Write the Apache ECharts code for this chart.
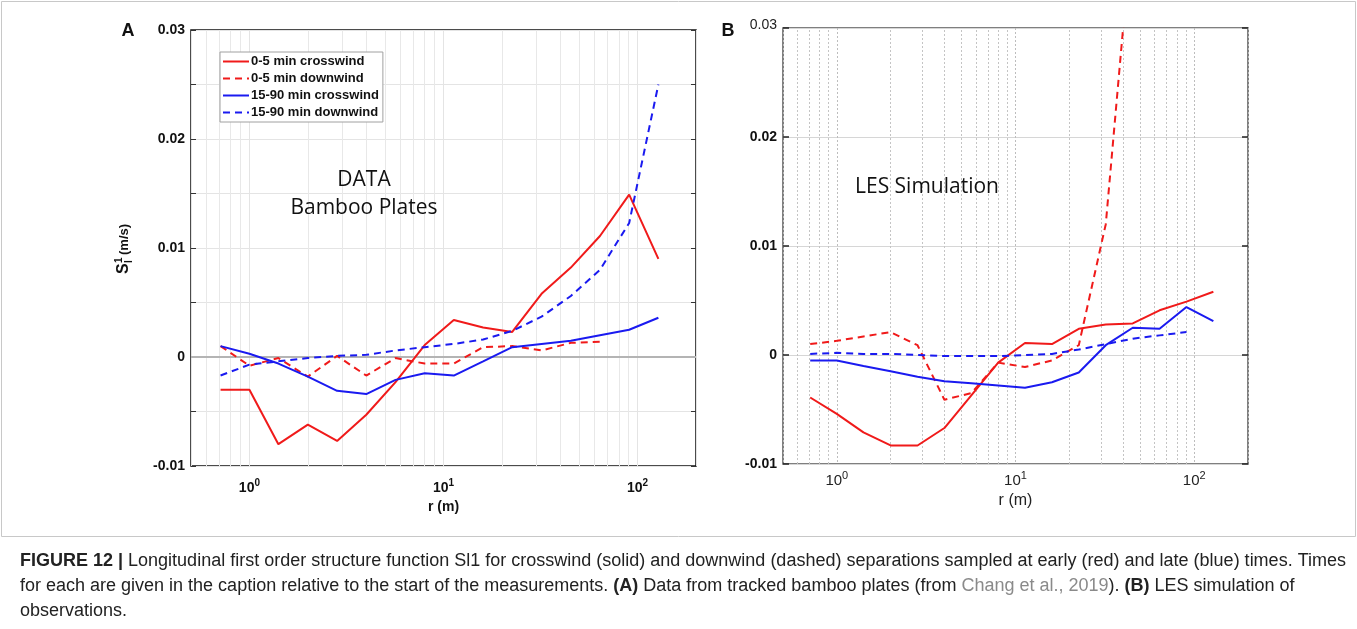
<!DOCTYPE html>
<html>
<head>
<meta charset="utf-8">
<script src="https://cdn.jsdelivr.net/npm/echarts@6/dist/echarts.min.js"></script>
<style>
  html, body { margin: 0; padding: 0; background: #fff; }
  #main { width: 1357px; height: 629px; }
</style>
</head>
<body>
<div id="main"></div>
<script>
// Separation distances r (m), spaced by a factor of sqrt(2)
const rSep = [0.71, 1, 1.41, 2, 2.83, 4, 5.66, 8, 11.3, 16, 22.6, 32, 45.3, 64, 90.5, 128];

// (A) tracked bamboo plates, S_l^1 (m/s)
const plateCrossEarly = [-0.0030, -0.0030, -0.0080, -0.0062, -0.0077, -0.0053, -0.0023, 0.0011, 0.0034, 0.0027, 0.0023, 0.0058, 0.0082, 0.0111, 0.0149, 0.0090];
const plateDownEarly  = [0.0010, -0.0008, -0.0001, -0.0018, 0.0001, -0.0017, -0.0001, -0.0006, -0.0006, 0.0009, 0.0010, 0.0006, 0.0013, 0.0014];
const plateCrossLate  = [0.0010, 0.0003, -0.0006, -0.0018, -0.0031, -0.0034, -0.0021, -0.0015, -0.0017, -0.0004, 0.0009, 0.0012, 0.0015, 0.0020, 0.0025, 0.0036];
const plateDownLate   = [-0.0017, -0.0007, -0.0004, -0.0001, 0.0001, 0.0002, 0.0006, 0.0009, 0.0012, 0.0016, 0.0024, 0.0037, 0.0056, 0.0080, 0.0123, 0.0250];

// (B) LES simulation, S_l^1 (m/s)
const lesCrossEarly = [-0.0039, -0.0054, -0.0071, -0.0083, -0.0083, -0.0067, -0.0037, -0.0007, 0.0011, 0.0010, 0.0024, 0.0028, 0.0029, 0.0041, 0.0049, 0.0058];
const lesDownEarly  = [0.0010, 0.0013, 0.0017, 0.0021, 0.0009, -0.0041, -0.0035, -0.0007, -0.0011, -0.0005, 0.0009, 0.0120, 0.0400];
const lesCrossLate  = [-0.0005, -0.0005, -0.0010, -0.0015, -0.0020, -0.0024, -0.0026, -0.0028, -0.0030, -0.0025, -0.0016, 0.0009, 0.0025, 0.0024, 0.0044, 0.0031];
const lesDownLate   = [0.0001, 0.0002, 0.0001, 0.0001, 0.0000, -0.0001, -0.0001, -0.0001, 0.0000, 0.0001, 0.0005, 0.0010, 0.0015, 0.0018, 0.0021];

const seriesNames = ['0-5 min crosswind', '0-5 min downwind', '15-90 min crosswind', '15-90 min downwind'];

const RED = '#f01a1a';
const BLUE = '#1a1af0';
const FONT = "'Liberation Sans', Arial, Helvetica, sans-serif";
const CAPTION_FONT = "18px 'Liberation Sans', Arial, sans-serif";

// pair every value with its separation
const pairs = vals => vals.map((v, i) => [rSep[i], v]);

// minor log-grid positions (2..9 x 10^k) inside the r range
const minorGrid = [];
for (let e = -1; e <= 2; e++) {
  for (let m = 2; m <= 9; m++) {
    const v = m * Math.pow(10, e);
    if (v > 0.5 + 1e-9 && v < 200 - 1e-9) minorGrid.push(v);
  }
}

function powLabel(v) {
  const lg = Math.log10(v);
  const e = Math.round(lg);
  if (Math.abs(lg - e) > 1e-6) return '';
  return '{b|10}{s|' + e + '}';
}
function yLabel(v) {
  const k = Math.round(v * 1000);
  if (k % 10 !== 0) return '';
  return k === 0 ? '0' : (k / 1000).toFixed(2);
}

function curve(name, vals, color, dashed, xi) {
  return {
    name: name, type: 'line', xAxisIndex: xi, yAxisIndex: xi * 2,
    data: pairs(vals), symbol: 'none', showSymbol: false, z: 5, clip: true,
    lineStyle: { color: color, width: 2, type: dashed ? [7, 5] : 'solid' },
    itemStyle: { color: color },
    emphasis: { disabled: true }
  };
}

const chart = echarts.init(document.getElementById('main'));

const option = {
  backgroundColor: '#fff',
  animation: false,
  grid: [
    { left: 191, top: 30, width: 505, height: 436, show: true, borderColor: '#111', borderWidth: 1.5, backgroundColor: 'transparent' },
    { left: 783, top: 28, width: 465, height: 436, show: true, borderColor: '#555', borderWidth: 1.5, backgroundColor: 'transparent' }
  ],
  legend: {
    data: seriesNames,
    orient: 'vertical', left: 220, top: 52, z: 20,
    itemWidth: 26, itemHeight: 10, itemGap: 4,
    padding: [3, 4, 3, 2],
    backgroundColor: '#fff', borderColor: '#a0a0a0', borderWidth: 1,
    selectedMode: false,
    itemStyle: { color: 'rgba(0,0,0,0)', borderWidth: 0, opacity: 0 },
    textStyle: { fontFamily: FONT, fontWeight: 'bold', fontSize: 13, color: '#111', padding: [0, 0, 0, -3] }
  },
  xAxis: [
    {
      type: 'log', logBase: 10, gridIndex: 0, min: 0.5, max: 200,
      axisLine: { show: false }, axisTick: { show: false },
      axisLabel: {
        formatter: powLabel, margin: 12, color: '#111',
        rich: {
          b: { fontFamily: FONT, fontWeight: 'bold', fontSize: 14, color: '#111' },
          s: { fontFamily: FONT, fontWeight: 'bold', fontSize: 10, color: '#111', padding: [0, 0, 10, 0] }
        }
      },
      splitLine: { show: true, lineStyle: { color: '#e4e4e4', width: 1 } },
      name: 'r (m)', nameLocation: 'middle', nameGap: 33,
      nameTextStyle: { fontFamily: FONT, fontWeight: 'bold', fontSize: 14, color: '#111' }
    },
    {
      type: 'log', logBase: 10, gridIndex: 1, min: 0.5, max: 200,
      axisLine: { show: false }, axisTick: { show: false },
      axisLabel: {
        formatter: powLabel, margin: 6, color: '#222',
        rich: {
          b: { fontFamily: FONT, fontSize: 15, color: '#222' },
          s: { fontFamily: FONT, fontSize: 11, color: '#222', padding: [0, 0, 10, 0] }
        }
      },
      splitLine: { show: true, lineStyle: { color: '#bdbdbd', width: 1, type: [2, 2] } },
      name: 'r (m)', nameLocation: 'middle', nameGap: 28,
      nameTextStyle: { fontFamily: FONT, fontSize: 16, color: '#222' }
    }
  ],
  yAxis: [
    {
      type: 'value', gridIndex: 0, min: -0.01, max: 0.03, interval: 0.005,
      axisLine: { show: false },
      axisTick: { show: true, inside: true, length: 5, lineStyle: { color: '#333' } },
      axisLabel: { formatter: yLabel, margin: 6, fontFamily: FONT, fontWeight: 'bold', fontSize: 14, color: '#111' },
      splitLine: { show: true, lineStyle: { color: '#e4e4e4', width: 1 } }
    },
    {
      type: 'value', gridIndex: 0, position: 'right', min: -0.01, max: 0.03, interval: 0.005,
      axisLine: { show: false },
      axisTick: { show: true, inside: true, length: 5, lineStyle: { color: '#333' } },
      axisLabel: { show: false }, splitLine: { show: false }
    },
    {
      type: 'value', gridIndex: 1, min: -0.01, max: 0.03, interval: 0.01,
      axisLine: { show: false },
      axisTick: { show: true, inside: true, length: 6, lineStyle: { color: '#222', width: 1.5 } },
      axisLabel: {
        margin: 6,
        formatter: v => {
          const t = yLabel(v);
          return Math.round(v * 1000) === 30 ? '{n|' + t + '}' : '{b|' + t + '}';
        },
        rich: {
          n: { fontFamily: FONT, fontSize: 14, color: '#222', padding: [0, 0, 6, 0] },
          b: { fontFamily: FONT, fontWeight: 'bold', fontSize: 14, color: '#111' }
        }
      },
      splitLine: { show: true, lineStyle: { color: '#d6d6d6', width: 1 } }
    },
    {
      type: 'value', gridIndex: 1, position: 'right', min: -0.01, max: 0.03, interval: 0.01,
      axisLine: { show: false },
      axisTick: { show: true, inside: true, length: 6, lineStyle: { color: '#222', width: 1.5 } },
      axisLabel: { show: false }, splitLine: { show: false }
    }
  ],
  series: [
    // background grid for (A): minor log lines and the zero reference
    {
      type: 'line', xAxisIndex: 0, yAxisIndex: 0, data: [], z: 1, silent: true,
      markLine: {
        z: 1, silent: true, symbol: 'none', label: { show: false }, animation: false,
        data: minorGrid.map(v => ({ xAxis: v, lineStyle: { color: '#e8e8e8', width: 1, type: 'solid' } }))
          .concat([{ yAxis: 0, lineStyle: { color: '#b4b4b4', width: 2, type: 'solid' } }])
      }
    },
    // background grid for (B): dotted minor log lines
    {
      type: 'line', xAxisIndex: 1, yAxisIndex: 2, data: [], z: 1, silent: true,
      markLine: {
        z: 1, silent: true, symbol: 'none', label: { show: false }, animation: false,
        data: minorGrid.map(v => ({ xAxis: v, lineStyle: { color: '#c4c4c4', width: 1, type: [2, 2] } }))
      }
    },
    curve(seriesNames[0], plateCrossEarly, RED, false, 0),
    curve(seriesNames[1], plateDownEarly, RED, true, 0),
    curve(seriesNames[2], plateCrossLate, BLUE, false, 0),
    curve(seriesNames[3], plateDownLate, BLUE, true, 0),
    curve('LES 0-5 min crosswind', lesCrossEarly, RED, false, 1),
    curve('LES 0-5 min downwind', lesDownEarly, RED, true, 1),
    curve('LES 15-90 min crosswind', lesCrossLate, BLUE, false, 1),
    curve('LES 15-90 min downwind', lesDownLate, BLUE, true, 1)
  ],
  graphic: [
    // frame round the figure
    { type: 'rect', z: 0, shape: { x: 1.5, y: 1.5, width: 1354, height: 535 }, style: { fill: 'none', stroke: '#c8c8c8', lineWidth: 1 }, silent: true },
    // panel letters
    { type: 'text', z: 10, x: 128, y: 31, style: { text: 'A', font: "bold 18px 'Liberation Sans', Arial", fill: '#111', align: 'center', verticalAlign: 'middle' } },
    { type: 'text', z: 10, x: 728, y: 31, style: { text: 'B', font: "bold 18px 'Liberation Sans', Arial", fill: '#111', align: 'center', verticalAlign: 'middle' } },
    // panel annotations
    { type: 'text', z: 10, x: 364, y: 180, style: { text: 'DATA', font: "21px 'Open Sans', 'Noto Sans', sans-serif", fill: '#111', align: 'center', verticalAlign: 'middle' } },
    { type: 'text', z: 10, x: 364, y: 208, style: { text: 'Bamboo Plates', font: "21px 'Open Sans', 'Noto Sans', sans-serif", fill: '#111', align: 'center', verticalAlign: 'middle' } },
    { type: 'text', z: 10, x: 927, y: 187, style: { text: 'LES Simulation', font: "21px 'Open Sans', 'Noto Sans', sans-serif", fill: '#111', align: 'center', verticalAlign: 'middle' } },
    // y-axis title of (A): S_l^1 (m/s), reading upwards
    {
      type: 'group', z: 10, x: 124, y: 274, rotation: Math.PI / 2,
      children: [
        { type: 'text', z: 10, x: 0, y: 0, style: { text: 'S', font: "bold 16px 'Liberation Sans', Arial", fill: '#111', align: 'left', verticalAlign: 'middle' } },
        { type: 'text', z: 10, x: 11, y: -5, style: { text: '1', font: "bold 10px 'Liberation Sans', Arial", fill: '#111', align: 'left', verticalAlign: 'middle' } },
        { type: 'text', z: 10, x: 11, y: 5, style: { text: 'l', font: "bold 10px 'Liberation Sans', Arial", fill: '#111', align: 'left', verticalAlign: 'middle' } },
        { type: 'text', z: 10, x: 19, y: 0, style: { text: '(m/s)', font: "bold 13px 'Liberation Sans', Arial", fill: '#111', align: 'left', verticalAlign: 'middle' } }
      ]
    },
    // caption
    {
      type: 'group', z: 10, x: 20, y: 561,
      children: [
        {
          type: 'text', z: 10, x: 0, y: 0,
          style: {
            text: '{b|FIGURE 12 |} Longitudinal first order structure function Sl1 for crosswind (solid) and downwind (dashed) separations sampled at early (red) and late (blue) times. Times',
            font: CAPTION_FONT, fill: '#222', verticalAlign: 'middle',
            rich: { b: { fontWeight: 'bold', fontSize: 18, fontFamily: FONT, fill: '#222' } }
          }
        },
        {
          type: 'text', z: 10, x: 0, y: 25,
          style: {
            text: 'for each are given in the caption relative to the start of the measurements. {b|(A)} Data from tracked bamboo plates (from {g|Chang et al., 2019}). {b|(B)} LES simulation of',
            font: CAPTION_FONT, fill: '#222', verticalAlign: 'middle',
            rich: {
              b: { fontWeight: 'bold', fontSize: 18, fontFamily: FONT, fill: '#222' },
              g: { fontSize: 18, fontFamily: FONT, fill: '#8a8a8a' }
            }
          }
        },
        {
          type: 'text', z: 10, x: 0, y: 50,
          style: { text: 'observations.', font: CAPTION_FONT, fill: '#222', verticalAlign: 'middle' }
        }
      ]
    }
  ]
};

chart.setOption(option);
</script>
</body>
</html>
